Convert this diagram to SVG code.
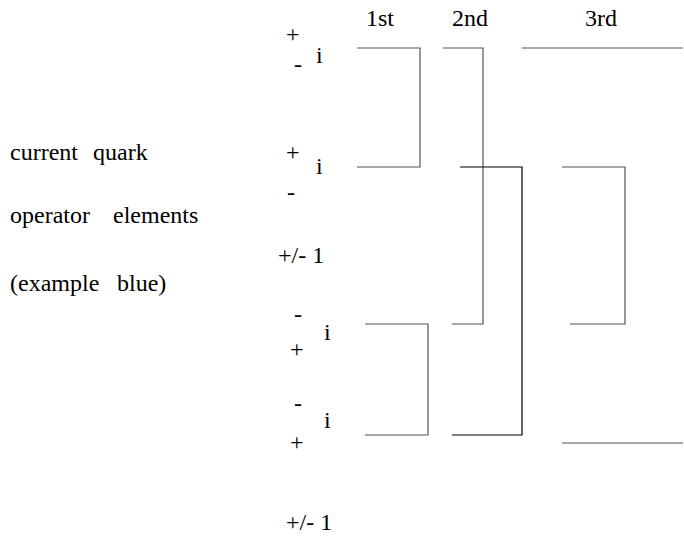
<svg xmlns="http://www.w3.org/2000/svg" width="684" height="536" viewBox="0 0 684 536">
<style>
.ln{fill:none;stroke:#555;stroke-width:1.2}
.dk{stroke:#000}
</style>
<rect width="684" height="536" fill="#fff"/>
<g font-family="'Liberation Serif', 'Times New Roman', Times, serif" font-size="24" fill="#000">
<g id="legend">
<text x="10" y="160">current</text><text x="93" y="160">quark</text>
<text x="10" y="223">operator</text><text x="113" y="223">elements</text>
<text x="10" y="291">(example</text><text x="117" y="291">blue)</text>
</g>
<g id="headers">
<text x="366" y="26">1st</text>
<text x="452" y="26">2nd</text>
<text x="585" y="26">3rd</text>
</g>
<g id="row1">
<text x="286" y="42">+</text>
<text x="294" y="72">-</text>
<text x="316" y="63">i</text>
</g>
<g id="row2">
<text x="286" y="160">+</text>
<text x="287" y="200">-</text>
<text x="316" y="174">i</text>
</g>
<g id="sep1"><text x="278" y="263">+/- 1</text></g>
<g id="row3">
<text x="294" y="322">-</text>
<text x="290" y="357">+</text>
<text x="324" y="340">i</text>
</g>
<g id="row4">
<text x="294" y="411">-</text>
<text x="290" y="450">+</text>
<text x="324" y="428">i</text>
</g>
<g id="sep2"><text x="286" y="530">+/- 1</text></g>
</g>
<g id="connectors">
<polyline class="ln" points="357,48 420,48 420,167 357,167"/>
<polyline class="ln" points="443,48 483,48 483,324 452,324"/>
<polyline class="ln" points="522,48 683,48"/>
<polyline class="ln dk" points="460,167 522,167 522,435 452,435"/>
<polyline class="ln" points="562,167 625,167 625,324 570,324"/>
<polyline class="ln" points="365,324 428,324 428,435 365,435"/>
<polyline class="ln" points="562,443 683,443"/>
</g>
</svg>
